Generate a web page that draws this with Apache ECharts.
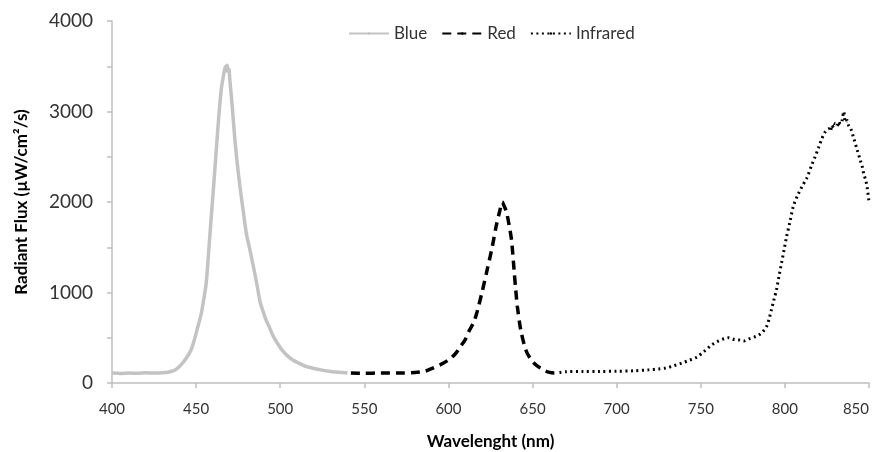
<!DOCTYPE html>
<html><head><meta charset="utf-8">
<script src="https://cdn.jsdelivr.net/npm/echarts@6/dist/echarts.min.js"></script>
<style>html,body{margin:0;padding:0;background:#fff}#c{width:880px;height:452px}</style>
</head><body><div id="c"></div>
<script>
const blueNm = [400,405,410,415,420,425,430,434,438,441,444,447,449,451,453,454.5,456,457.5,459,460.5,462,463.5,465,466.5,467.5,468,468.5,469,469.5,470,471.5,473,474.5,476,478,480,482,484,486,488,490,491.5,493.5,495,497,499,501,504,507,511,515,520,525,530,535,540];
const blueVal = [110,105,110,108,112,110,112,122,150,200,270,365,480,620,760,920,1105,1460,1835,2200,2575,2950,3250,3420,3500,3450,3510,3440,3470,3360,3050,2700,2420,2180,1900,1640,1470,1290,1105,900,780,700,620,550,480,420,365,305,260,220,185,160,142,128,118,110];
const redNm = [542,550,560,570,580,586,590,595,600,604,607,610,612,615,617,620,623,626,628.5,630.5,632,633,634.5,636,637.5,639,640,641,643,646,649,652,656,659.5,663,666];
const redVal = [110,108,110,110,115,130,160,200,255,320,400,480,565,670,785,1005,1250,1500,1745,1900,2000,1960,1890,1750,1580,1250,1030,840,585,365,260,200,150,120,110,110];
const irNm = [666,670,680,690,700,710,719,725,729,734,738.7,743,747.6,752,756.5,760,764,766.7,770,773,775.6,779,782,784.5,787,789,790.5,792,793.5,795,796.5,798,799.5,801,803,805,807.5,810,813,816,818,820,822,824,826,827,828,829,830,831,832,833,834,835,836,837,838,839,841,843,845,846,847,848,849,850];
const irVal = [115,125,128,128,130,135,145,155,165,190,220,250,285,350,420,460,490,500,480,475,465,490,510,530,570,620,700,810,920,1030,1180,1325,1470,1615,1780,1950,2070,2165,2265,2410,2500,2600,2700,2775,2810,2780,2850,2820,2870,2840,2890,2860,2900,3000,2880,2900,2840,2820,2700,2575,2450,2390,2300,2245,2150,2000];
const xTicks = [400,450,500,550,600,650,700,750,800,850];
const yTicks = [0,1000,2000,3000,4000];
const seriesNames = ['Blue','Red','Infrared'];

const zip = (a,b) => a.map((v,i)=>[v,b[i]]);
const FONT = 'Lato';
const chart = echarts.init(document.getElementById('c'));
chart.setOption({
  animation:false,
  backgroundColor:'#fff',
  textStyle:{fontFamily:FONT},
  legend:{
    top:20, left:343, itemWidth:40, itemHeight:3, itemGap:14,
    textStyle:{fontFamily:FONT,fontSize:17,color:'#333'},
    data:seriesNames
  },
  grid:{left:112,right:11,top:21,bottom:69,containLabel:false,outerBoundsMode:'none'},
  xAxis:{
    type:'value', min:400, max:850, interval:50,
    name:'Wavelenght (nm)', nameLocation:'middle', nameGap:50,
    nameTextStyle:{fontFamily:FONT,fontSize:17,fontWeight:'bold',color:'#000'},
    axisLine:{onZero:false,lineStyle:{color:'#bfbfbf',width:1.5}},
    axisTick:{show:true,length:5,lineStyle:{color:'#bfbfbf',width:1.5}},
    axisLabel:{fontFamily:FONT,fontSize:15,color:'#333',margin:19,alignMaxLabel:'right',
      formatter:v=>xTicks.includes(v)?String(v):''},
    splitLine:{show:false}
  },
  yAxis:{
    type:'value', min:0, max:4000, interval:500,
    name:'Radiant Flux (µW/cm²/s)', nameLocation:'middle', nameGap:82, nameRotate:90,
    nameTextStyle:{fontFamily:FONT,fontSize:17,fontWeight:'bold',color:'#000'},
    axisLine:{show:true,lineStyle:{color:'#bfbfbf',width:1.5}},
    axisTick:{show:true,length:5,lineStyle:{color:'#bfbfbf',width:1.5}},
    axisLabel:{fontFamily:FONT,fontSize:19,color:'#333',margin:19,
      formatter:v=>yTicks.includes(v)?String(v):''},
    splitLine:{show:false}
  },
  series:[
    {name:seriesNames[0],type:'line',data:zip(blueNm,blueVal),symbol:'none',smooth:0.3,
     itemStyle:{color:'#c3c3c3'},lineStyle:{color:'#c3c3c3',width:3.5}},
    {name:seriesNames[1],type:'line',data:zip(redNm,redVal),symbol:'none',smooth:0.3,
     itemStyle:{color:'#000'},lineStyle:{color:'#000',width:3.5,type:[9,6]}},
    {name:seriesNames[2],type:'line',data:zip(irNm,irVal),symbol:'none',smooth:0.3,
     itemStyle:{color:'#000'},lineStyle:{color:'#000',width:3,type:[2,3.5]}}
  ]
});
</script></body></html>
